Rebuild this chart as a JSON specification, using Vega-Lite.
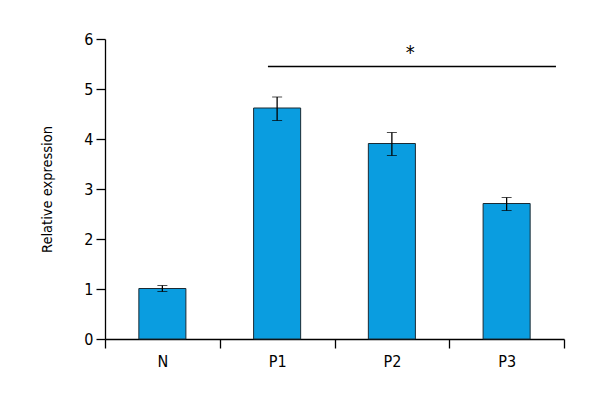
{
  "$schema": "https://vega.github.io/schema/vega-lite/v6.json",
  "width": 459,
  "height": 300,
  "autosize": {"type": "none"},
  "padding": {"left": 105, "top": 39, "right": 36, "bottom": 61},
  "background": "white",
  "config": {
    "view": {"stroke": null},
    "font": "DejaVu Sans Condensed, Roboto, sans-serif",
    "axis": {"grid": false, "domainColor": "black", "tickColor": "black", "labelColor": "black", "titleColor": "black", "domainWidth": 1.3, "tickWidth": 1.3}
  },
  "datasets": {
    "bars": [
      {"group": "N", "value": 1.01, "lo": 0.95, "hi": 1.07},
      {"group": "P1", "value": 4.62, "lo": 4.37, "hi": 4.84},
      {"group": "P2", "value": 3.91, "lo": 3.67, "hi": 4.13},
      {"group": "P3", "value": 2.71, "lo": 2.57, "hi": 2.83}
    ],
    "sig": [{"from": "P1", "to": "P3", "y": 5.45}],
    "star": [{"group": "P2", "y": 5.72, "label": "*"}]
  },
  "layer": [
    {
      "data": {"name": "bars"},
      "mark": {"type": "bar", "width": {"band": 0.41}, "fill": "#0a9de0", "stroke": "#1b2a33", "strokeWidth": 1},
      "encoding": {
        "x": {"field": "group", "type": "nominal", "scale": {"domain": ["N", "P1", "P2", "P3"], "paddingInner": 0, "paddingOuter": 0},
          "axis": {"title": null, "labelAngle": 0, "labelFontSize": 16, "tickBand": "extent", "tickSize": 9, "labelPadding": 5}},
        "y": {"field": "value", "type": "quantitative", "scale": {"domain": [0, 6]},
          "axis": {"title": "Relative expression", "values": [0, 1, 2, 3, 4, 5, 6], "labelFontSize": 16, "titleFontSize": 14.5, "titleFontWeight": "normal", "tickSize": 9, "labelPadding": 3, "titlePadding": 29}}
      }
    },
    {
      "data": {"name": "bars"},
      "mark": {"type": "errorbar", "color": "black", "ticks": {"size": 10, "color": "black", "strokeWidth": 1.3}, "rule": {"strokeWidth": 1.3}},
      "encoding": {
        "x": {"field": "group", "type": "nominal"},
        "y": {"field": "lo", "type": "quantitative", "title": "Relative expression"},
        "y2": {"field": "hi"}
      }
    },
    {
      "data": {"name": "sig"},
      "mark": {"type": "rule", "color": "black", "strokeWidth": 1.3},
      "encoding": {
        "x": {"field": "from", "type": "nominal", "bandPosition": 0.42},
        "x2": {"field": "to", "bandPosition": 0.93},
        "y": {"field": "y", "type": "quantitative"}
      }
    },
    {
      "data": {"name": "star"},
      "mark": {"type": "text", "fontSize": 20, "color": "black"},
      "encoding": {
        "x": {"field": "group", "type": "nominal", "bandPosition": 0.66},
        "y": {"field": "y", "type": "quantitative"},
        "text": {"field": "label"}
      }
    }
  ]
}
